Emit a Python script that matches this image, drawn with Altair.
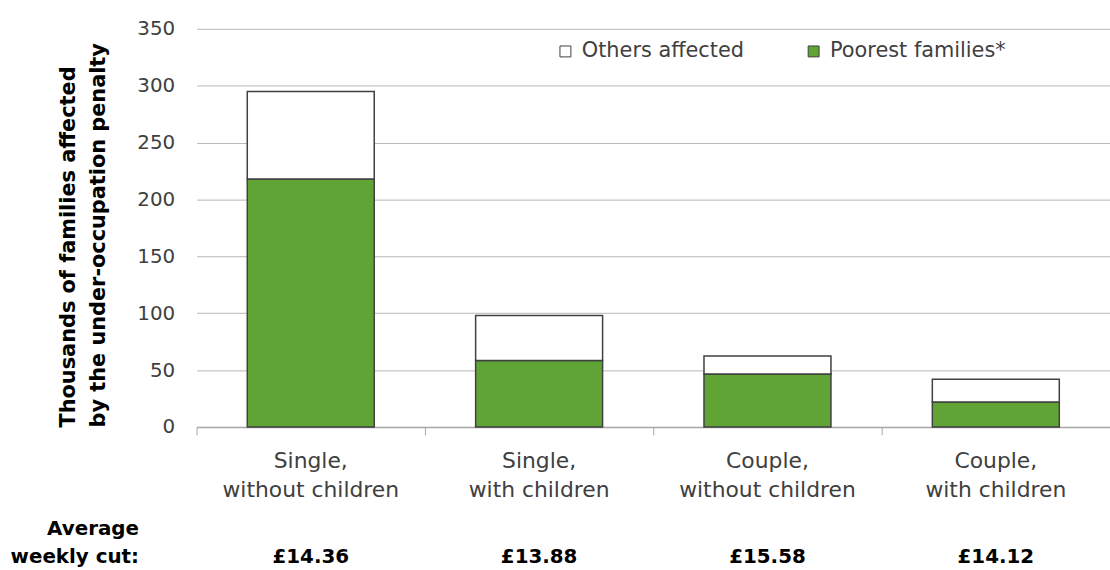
import altair as alt
import pandas as pd

categories = ["Single,\nwithout children", "Single,\nwith children",
              "Couple,\nwithout children", "Couple,\nwith children"]
poorest = [218, 58.5, 46.5, 22]
others = [77, 39.5, 16, 20]
weekly_cut = ["£14.36", "£13.88", "£15.58", "£14.12"]
series = ["Others affected", "Poorest families*"]
colors = ["#FFFFFF", "#60A435"]

FONT = "DejaVu Sans"
TXT = "#404040"

rows = []
for c, p, o in zip(categories, poorest, others):
    rows.append({"cat": c, "series": series[1], "value": p, "ord": 0})
    rows.append({"cat": c, "series": series[0], "value": o, "ord": 1})
bars_df = pd.DataFrame(rows)
cat_df = pd.DataFrame({"cat": categories, "cut": weekly_cut})
avg_df = pd.DataFrame({"t": ["Average\nweekly cut:"]})

xscale = alt.Scale(domain=categories, paddingInner=0, paddingOuter=0)
xenc = alt.X("cat:N", scale=xscale, sort=categories,
             axis=alt.Axis(title=None, labels=False, bandPosition=0, tickSize=8,
                           tickColor="#A6A6A6", domainColor="#A6A6A6",
                           domainWidth=1.5, grid=False))

bars = alt.Chart(bars_df).mark_bar(
    stroke="#404040", strokeWidth=1.5, width=alt.RelativeBandSize(0.556)
).encode(
    x=xenc,
    y=alt.Y("value:Q", stack="zero",
            scale=alt.Scale(domain=[0, 350], nice=False),
            axis=alt.Axis(values=list(range(0, 351, 50)), title=[
                "Thousands of families affected", "by the under-occupation penalty"],
                titleFont=FONT, titleFontSize=21, titleFontWeight="bold",
                titleColor="#000000", titleAnchor="start", titleAlign="left",
                titleAngle=-90, titleX=-123, titleY=401, titleBaseline="alphabetic",
                titleLineHeight=30, titleLimit=500,
                labelFont=FONT, labelFontSize=20, labelColor=TXT, labelPadding=22,
                tickSize=0, domain=False, gridColor="#B7B7B7", gridWidth=1)),
    fill=alt.Color("series:N", scale=alt.Scale(domain=series, range=colors),
                   legend=alt.Legend(title=None, orient="none", legendX=361, legendY=12,
                                     direction="horizontal", symbolType="square",
                                     symbolSize=121, symbolStrokeColor="#404040",
                                     symbolStrokeWidth=1, labelFont=FONT,
                                     labelFontSize=21, labelColor=TXT, labelLimit=400,
                                     labelOffset=6, columnPadding=59)),
    order=alt.Order("ord:Q"),
)

cat_labels = alt.Chart(cat_df).mark_text(
    font=FONT, fontSize=22, color=TXT, lineBreak="\n", lineHeight=30,
    baseline="alphabetic", align="center"
).encode(x=xenc, y=alt.value(442), text="cat:N")

cut_labels = alt.Chart(cat_df).mark_text(
    font=FONT, fontSize=20, fontWeight="bold", color="#000000",
    baseline="alphabetic", align="center"
).encode(x=xenc, y=alt.value(538), text="cut:N")

avg_label = alt.Chart(avg_df).mark_text(
    font=FONT, fontSize=20, fontWeight="bold", color="#000000", lineBreak="\n",
    lineHeight=28, baseline="alphabetic", align="right"
).encode(x=alt.value(-58), y=alt.value(510), text="t:N")

chart = alt.layer(bars, cat_labels, cut_labels, avg_label).properties(
    width=920, height=401,
    autosize=alt.AutoSizeParams(type="none"),
    padding={"left": 198, "top": 27, "right": 0, "bottom": 142},
).configure_view(stroke=None)

chart.save("out.html", embed_options={"renderer": "svg", "actions": False})
